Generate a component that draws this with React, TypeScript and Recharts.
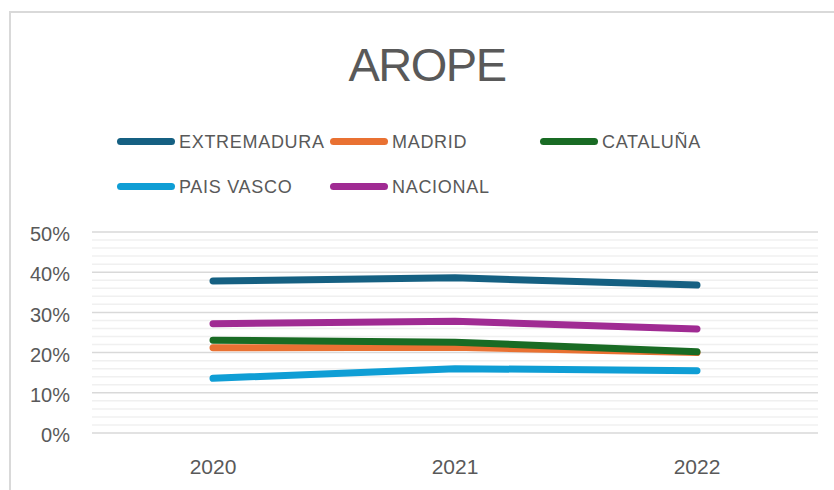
import React from "react"
import {
  LineChart,
  Line,
  XAxis,
  YAxis,
  CartesianGrid,
  ReferenceLine,
} from "recharts"

const years = ["2020", "2021", "2022"]

const extremadura = [0.378, 0.386, 0.368]
const madrid = [0.212, 0.213, 0.2]
const cataluna = [0.231, 0.226, 0.202]
const paisVasco = [0.136, 0.16, 0.155]
const nacional = [0.272, 0.278, 0.259]

const yTicks = [0, 0.1, 0.2, 0.3, 0.4, 0.5]
const minorTicks = [0.02, 0.04, 0.06, 0.08, 0.12, 0.14, 0.16, 0.18, 0.22, 0.24, 0.26, 0.28, 0.32, 0.34, 0.36, 0.38, 0.42, 0.44, 0.46, 0.48]

const series = [
  { key: "extremadura", name: "EXTREMADURA", color: "#156082", values: extremadura },
  { key: "madrid", name: "MADRID", color: "#E97132", values: madrid },
  { key: "cataluna", name: "CATALUÑA", color: "#196B24", values: cataluna },
  { key: "paisVasco", name: "PAIS VASCO", color: "#0F9ED5", values: paisVasco },
  { key: "nacional", name: "NACIONAL", color: "#A02B93", values: nacional },
]

const data = years.map((year, i) => {
  const row: Record<string, any> = { year }
  series.forEach((s) => {
    row[s.key] = s.values[i]
  })
  return row
})

const FONT = '"Liberation Sans", Arial, sans-serif'
const TEXT = "#595959"

// legend slots: 3 columns, 2 rows
const legendCols = [117, 330, 540]
const legendRows = [141, 186]

export default function App() {
  return (
    <div
      style={{
        position: "absolute",
        left: 0,
        top: 0,
        width: 834,
        height: 490,
        overflow: "hidden",
        background: "#ffffff",
        fontFamily: FONT,
      }}
    >
      <div
        style={{
          position: "absolute",
          left: 9,
          top: 11,
          width: 900,
          height: 600,
          borderTop: "2px solid #d9d9d9",
          borderLeft: "2px solid #d9d9d9",
        }}
      />
      <div
        style={{
          position: "absolute",
          left: 0,
          width: 854,
          top: 41,
          textAlign: "center",
          fontSize: 47,
          lineHeight: "47px",
          letterSpacing: -1.5,
          color: TEXT,
        }}
      >
        AROPE
      </div>
      {series.map((s, i) => (
        <div
          key={s.key}
          style={{
            position: "absolute",
            left: legendCols[i % 3],
            top: legendRows[Math.floor(i / 3)] - 12,
            height: 24,
            display: "flex",
            alignItems: "center",
            whiteSpace: "nowrap",
          }}
        >
          <div
            style={{
              width: 58,
              height: 7,
              borderRadius: 4,
              background: s.color,
              marginRight: 4,
            }}
          />
          <span style={{ fontSize: 18, letterSpacing: 0.7, color: TEXT, paddingTop: 2 }}>
            {s.name}
          </span>
        </div>
      ))}
      <div style={{ position: "absolute", left: 0, top: 0 }}>
        <LineChart
          width={834}
          height={490}
          data={data}
          margin={{ top: 232, right: 16, bottom: 0, left: 0 }}
        >
          <CartesianGrid vertical={false} stroke="#d9d9d9" strokeWidth={1.5} />
          {minorTicks.map((v) => (
            <ReferenceLine key={v} y={v} stroke="#f0f0f0" strokeWidth={1.5} />
          ))}
          <XAxis
            dataKey="year"
            height={57}
            padding={{ left: 121, right: 121 }}
            axisLine={false}
            tickLine={false}
            tickSize={0}
            tickMargin={26}
            tick={{ fill: TEXT, fontSize: 21, fontFamily: FONT }}
          />
          <YAxis
            width={92}
            domain={[0, 0.5]}
            ticks={yTicks}
            axisLine={false}
            tickLine={false}
            tickSize={0}
            tickMargin={22}
            tickFormatter={(v: number) => `${Math.round(v * 100)}%`}
            tick={{ fill: TEXT, fontSize: 20, fontFamily: FONT, dy: 2 }}
          />
          {series.map((s) => (
            <Line
              key={s.key}
              dataKey={s.key}
              name={s.name}
              stroke={s.color}
              strokeWidth={7}
              strokeLinecap="round"
              strokeLinejoin="round"
              dot={false}
              activeDot={false}
              isAnimationActive={false}
            />
          ))}
        </LineChart>
      </div>
    </div>
  )
}
